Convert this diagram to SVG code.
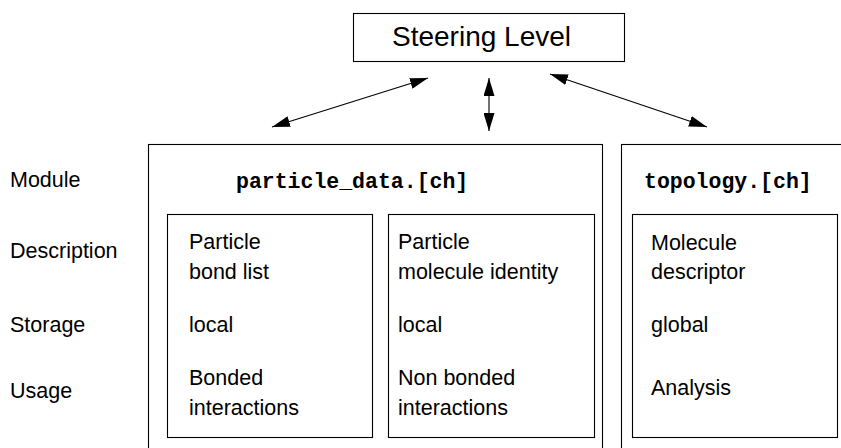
<svg xmlns="http://www.w3.org/2000/svg" width="841" height="448" viewBox="0 0 841 448">
<defs>
<style>
.box{fill:#fff;stroke:#000;stroke-width:1.1}
.t{font-family:"Liberation Sans",Arial,sans-serif;font-size:21.5px;fill:#000}
.m{font-family:"Liberation Mono","Courier New",monospace;font-size:21.5px;font-weight:bold;fill:#000}
.c{stroke:#000;stroke-width:1.1;fill:none;marker-start:url(#ah);marker-end:url(#ah)}
</style>
<marker id="ah" viewBox="0 0 18 11" refX="18" refY="5.5" markerWidth="18" markerHeight="11" markerUnits="userSpaceOnUse" orient="auto-start-reverse">
<path d="M0,0 L18,5.5 L0,11 z" fill="#000"/>
</marker>
</defs>
<rect width="841" height="448" fill="#fff"/>
<g id="steering">
<rect class="box" x="353.5" y="13.5" width="271" height="48"/>
<text class="t" x="481.5" y="46" text-anchor="middle" style="font-size:28px">Steering Level</text>
</g>
<g id="connectors">
<line class="c" x1="272" y1="127" x2="428" y2="78"/>
<line class="c" x1="489" y1="78" x2="489" y2="131"/>
<line class="c" x1="550" y1="74" x2="707" y2="127"/>
</g>
<g id="row-labels">
<text class="t" x="10" y="187">Module</text>
<text class="t" x="10" y="258">Description</text>
<text class="t" x="10" y="332">Storage</text>
<text class="t" x="10" y="398">Usage</text>
</g>
<g id="particle-data">
<rect class="box" x="148.5" y="144.5" width="454" height="320"/>
<text class="m" x="236" y="188">particle_data.[ch]</text>
</g>
<g id="bond-list">
<rect class="box" x="167.5" y="214.5" width="205" height="223"/>
<text class="t" x="189" y="249">Particle</text>
<text class="t" x="189" y="279">bond list</text>
<text class="t" x="189" y="332">local</text>
<text class="t" x="189" y="385">Bonded</text>
<text class="t" x="189" y="415">interactions</text>
</g>
<g id="molecule-identity">
<rect class="box" x="388.5" y="214.5" width="206" height="223"/>
<text class="t" x="398" y="249">Particle</text>
<text class="t" x="398" y="279">molecule identity</text>
<text class="t" x="398" y="332">local</text>
<text class="t" x="398" y="385">Non bonded</text>
<text class="t" x="398" y="415">interactions</text>
</g>
<g id="topology">
<rect class="box" x="621.5" y="144.5" width="240" height="320"/>
<text class="m" x="644" y="188">topology.[ch]</text>
</g>
<g id="molecule-descriptor">
<rect class="box" x="632.5" y="214.5" width="205" height="223"/>
<text class="t" x="651" y="250">Molecule</text>
<text class="t" x="651" y="279">descriptor</text>
<text class="t" x="651" y="332">global</text>
<text class="t" x="651" y="395">Analysis</text>
</g>
</svg>
